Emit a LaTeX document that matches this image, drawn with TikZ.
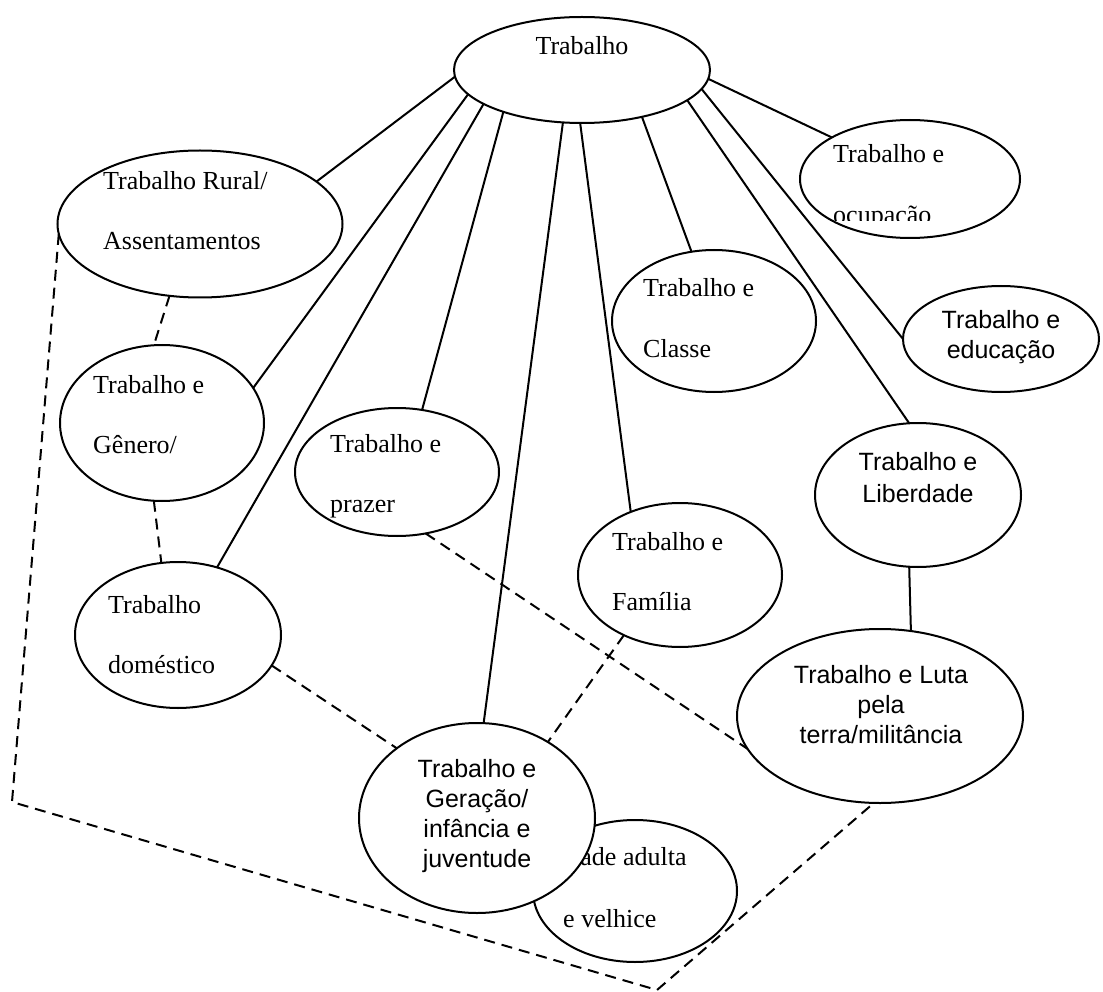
\documentclass[tikz,border=0pt]{standalone}
\usepackage{fontspec}
\setmainfont{Liberation Serif}
\newfontfamily\arialfont{Liberation Sans}
\usetikzlibrary{shapes.geometric}
\tikzset{
   blob/.style={draw,ellipse,fill=white,line width=2pt,inner sep=0pt,outer sep=0pt},
   tlabel/.style={font=\fontsize{26}{30}\selectfont,inner sep=0pt,anchor=base west},
   alabel/.style={font=\arialfont\fontsize{25}{30}\selectfont,inner sep=0pt,align=center},
   link/.style={line width=2pt},
   dlink/.style={line width=2pt,dash pattern=on 11pt off 7pt}
}
\begin{document}
\begin{tikzpicture}[x=1pt,y=-1pt]
   \useasboundingbox (0,0) rectangle (1103,992);
   \node[blob,minimum width=256pt,minimum height=106pt] (trab) at (582,70) {};
   \node[blob,minimum width=285pt,minimum height=147pt] (rural) at (200,224) {};
   \node[blob,minimum width=220pt,minimum height=118pt] (ocup) at (910,179) {};
   \node[blob,minimum width=204pt,minimum height=142pt] (classe) at (714,321) {};
   \node[blob,minimum width=196pt,minimum height=106pt] (educ) at (1001,339) {};
   \node[blob,minimum width=204pt,minimum height=156pt] (genero) at (162,423) {};
   \node[blob,minimum width=204pt,minimum height=128pt] (prazer) at (397,472) {};
   \node[blob,minimum width=206pt,minimum height=144pt] (liber) at (918,495) {};
   \node[blob,minimum width=204pt,minimum height=144pt] (familia) at (680,575) {};
   \node[blob,minimum width=206pt,minimum height=146pt] (domes) at (178,635) {};
   \node[blob,minimum width=286pt,minimum height=174pt] (luta) at (880,716) {};
   \node[blob,minimum width=204pt,minimum height=142pt] (idade) at (635,891) {};
   \node[tlabel] (idadeA) at (560,865) {idade adulta};
   \node[tlabel] (idadeB) at (563,927) {e velhice};
   \node[blob,minimum width=236pt,minimum height=190pt] (geracao) at (477,818) {};

   \node[tlabel,anchor=base] (trabA) at (582,55) {Trabalho};
   \node[tlabel] (ruralA) at (103,190) {Trabalho Rural/};
   \node[tlabel] (ruralB) at (103,250) {Assentamentos};
   \node[tlabel] (ocupA) at (833,163) {Trabalho e};
   \begin{scope}
      \clip (800,120) rectangle (1020,221);
      \node[tlabel] (ocupB) at (833,224) {ocupação};
   \end{scope}
   \node[tlabel] (classeA) at (643,297) {Trabalho e};
   \node[tlabel] (classeB) at (643,357) {Classe};
   \node[alabel] (educA) at (1001,337) {Trabalho e\\educação};
   \node[tlabel] (generoA) at (93,393) {Trabalho e};
   \node[tlabel] (generoB) at (93,453) {Gênero/};
   \node[tlabel] (prazerA) at (330,452) {Trabalho e};
   \node[tlabel] (prazerB) at (330,512) {prazer};
   \node[alabel] (liberA) at (918,478) {Trabalho e\\[2pt]Liberdade};
   \node[tlabel] (familiaA) at (612,550) {Trabalho e};
   \node[tlabel] (familiaB) at (612,610) {Família};
   \node[tlabel] (domesA) at (108,613) {Trabalho};
   \node[tlabel] (domesB) at (108,673) {doméstico};
   \node[alabel] (lutaA) at (881,705) {Trabalho e Luta\\pela\\terra/militância};
   \node[alabel] (geracaoA) at (477,816) {Trabalho e\\Geração/\\infância e\\juventude};

   \draw[link] (trab.183) -- (rural.20.2);
   \draw[link] (trab.192) -- (genero.21.6);
   \draw[link] (trab.199.5) -- (domes.60.3);
   \draw[link] (trab.208) -- (prazer.68.4);
   \draw[link] (trab.250.6) -- (geracao.86.4);
   \draw[link] (trab.268) -- (familia.128.4);
   \draw[link] (trab.322) -- (classe.108.9);
   \draw[link] (trab.344.5) -- (liber.97.9);
   \draw[link] (trab.351.5) -- (educ.180);
   \draw[link] (trab.356.4) -- (ocup.152.9);
   \draw[link] (liber.263.7) -- (luta.70.6);

   \coordinate (cornerA) at (12,802);
   \coordinate (cornerB) at (657,990);
   \draw[dlink] (rural.247.7) -- (genero.96.6);
   \draw[dlink] (genero.264.8) -- (domes.103.9);
   \draw[dlink] (domes.342.3) -- (geracao.139);
   \draw[dlink] (prazer.295.1) -- (luta.194.3);
   \draw[dlink] (familia.227.5) -- (geracao.47.7);
   \draw[dlink] (rural.184) -- (cornerA) -- (cornerB) -- (luta.266.7);
\end{tikzpicture}
\end{document}
